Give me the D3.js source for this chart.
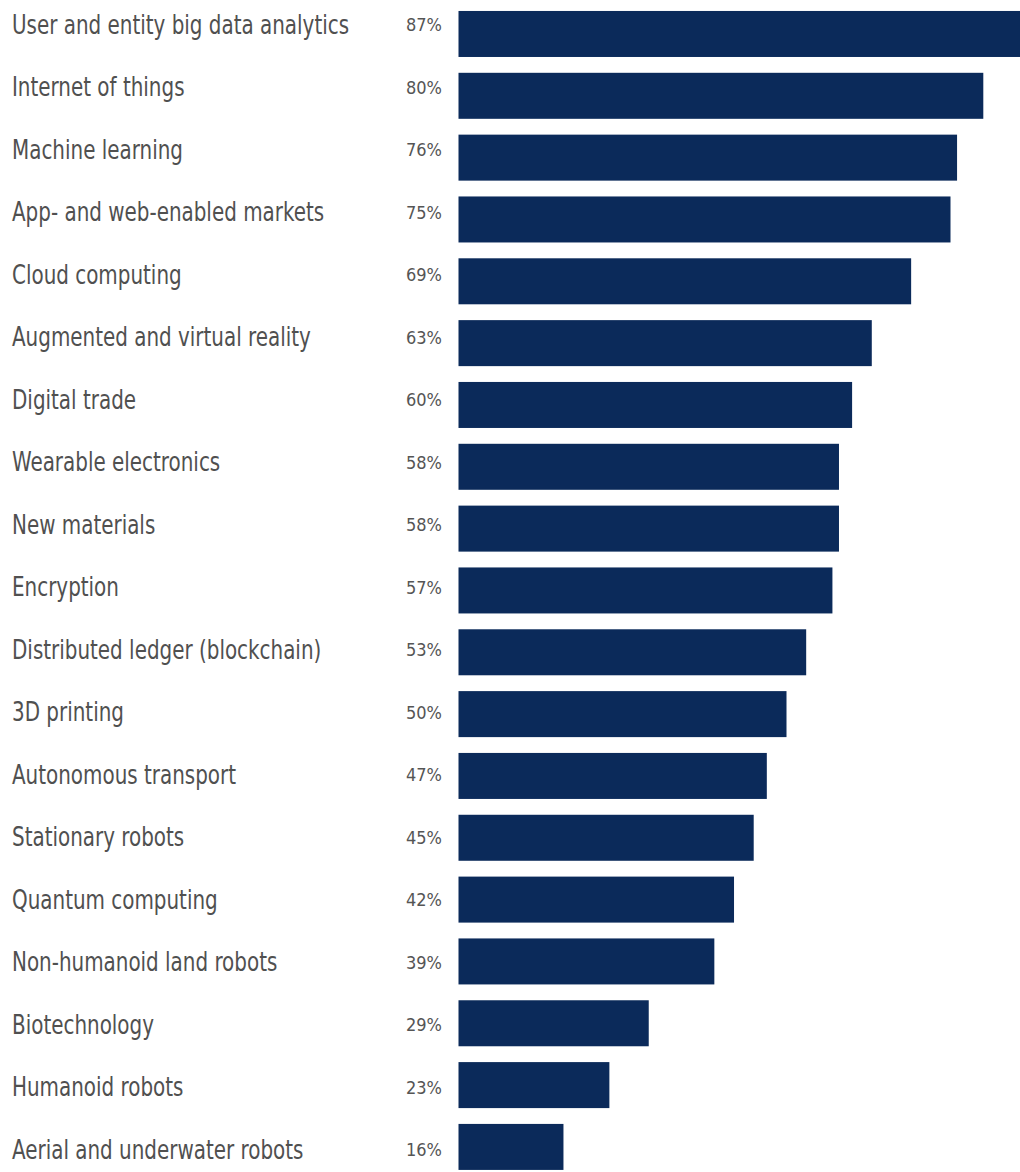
<!DOCTYPE html>
<html>
<head>
<meta charset="utf-8">
<script src="https://cdn.jsdelivr.net/npm/d3@7"></script>
<style>
  html, body { margin: 0; padding: 0; background: #ffffff; }
  svg { display: block; }
</style>
</head>
<body>
<svg id="chart" width="1020" height="1172"></svg>
<script>
// Technologies ranked by share of respondents
const categories = [
  "User and entity big data analytics",
  "Internet of things",
  "Machine learning",
  "App- and web-enabled markets",
  "Cloud computing",
  "Augmented and virtual reality",
  "Digital trade",
  "Wearable electronics",
  "New materials",
  "Encryption",
  "Distributed ledger (blockchain)",
  "3D printing",
  "Autonomous transport",
  "Stationary robots",
  "Quantum computing",
  "Non-humanoid land robots",
  "Biotechnology",
  "Humanoid robots",
  "Aerial and underwater robots"
];
const values = [87, 80, 76, 75, 69, 63, 60, 58, 58, 57, 53, 50, 47, 45, 42, 39, 29, 23, 16];

const svg = d3.select("#chart");
const FONT = "'DejaVu Sans Condensed', 'DejaVu Sans', sans-serif";

// value axis: bars start just right of the percentage column
const x = d3.scaleLinear().domain([0, 100]).range([458.5, 458.5 + 656]);
// bar rows
const y = d3.scaleBand().domain(categories).range([1.7, 1179.2]).paddingInner(0.256).paddingOuter(0.15);
// text rows (cap-height centres)
const yText = d3.scalePoint().domain(categories).range([24.5, 1149.5]);

const data = categories.map((c, i) => ({ c, v: values[i] }));

svg.append("g").selectAll("rect")
  .data(data)
  .join("rect")
  .attr("x", x(0))
  .attr("y", d => y(d.c))
  .attr("width", d => x(d.v) - x(0))
  .attr("height", y.bandwidth())
  .attr("fill", "#0b2a5a");

// category labels, horizontally compressed to a condensed face
const labelSize = 26;
svg.append("g").selectAll("text")
  .data(data)
  .join("text")
  .attr("transform", d => `translate(12, ${yText(d.c) + labelSize * 0.729 / 2}) scale(0.852, 1)`)
  .attr("font-family", FONT)
  .attr("font-size", labelSize)
  .attr("fill", "#505050")
  .text(d => d.c);

// percentage labels, right-aligned next to the bars
const pctSize = 18;
svg.append("g").selectAll("text")
  .data(data)
  .join("text")
  .attr("x", 442)
  .attr("y", d => yText(d.c) + pctSize * 0.729 / 2)
  .attr("text-anchor", "end")
  .attr("font-family", FONT)
  .attr("font-size", pctSize)
  .attr("fill", "#555555")
  .text(d => d.v + "%");
</script>
</body>
</html>
